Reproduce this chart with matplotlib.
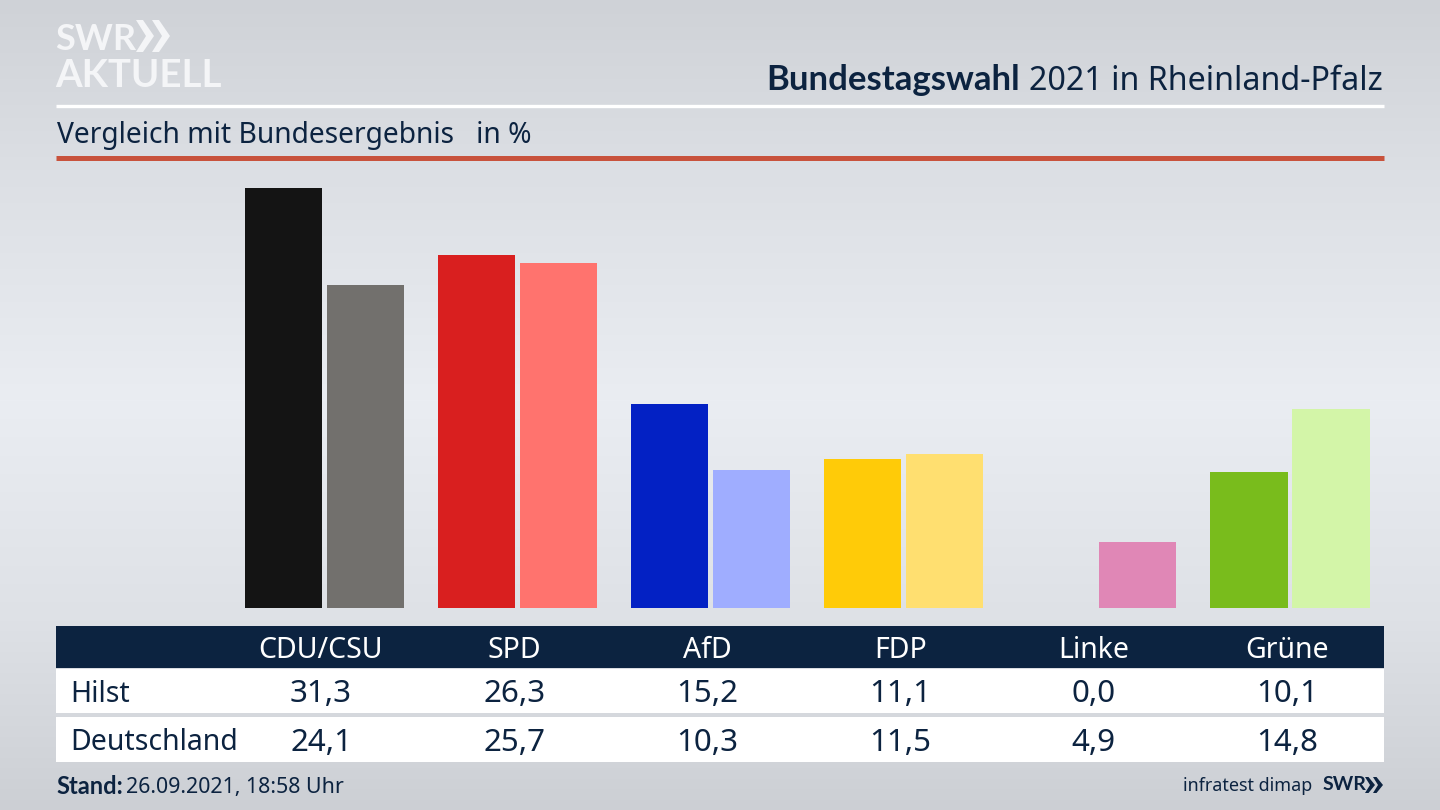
import numpy as np
import matplotlib
matplotlib.use('Agg')
import matplotlib.pyplot as plt
from matplotlib.patches import Rectangle, Polygon

plt.rcParams['font.family'] = ['Noto Sans', 'DejaVu Sans']

parteien = ['CDU/CSU', 'SPD', 'AfD', 'FDP', 'Linke', 'Grüne']
hilst = [31.3, 26.3, 15.2, 11.1, 0.0, 10.1]
deutschland = [24.1, 25.7, 10.3, 11.5, 4.9, 14.8]
farben_hilst = ['#141414', '#d91f1f', '#0321c4', '#ffcb08', '#e087b6', '#79bc1c']
farben_de = ['#72706d', '#ff736e', '#9fadff', '#ffdf70', '#e087b6', '#d3f5a8']

NAVY = '#0c2340'
FETT = ['Lato', 'Open Sans', 'DejaVu Sans']

fig = plt.figure(figsize=(14.4, 8.1), dpi=100)

# Hintergrund + Overlay in Pixelkoordinaten
bg = fig.add_axes([0, 0, 1, 1])
stops_y = [0, 170, 400, 620, 810]
stops_c = [207, 220, 234, 222, 204]
grau = np.interp(np.arange(810), stops_y, stops_c)
verlauf = np.stack([grau, grau + 3, grau + 8], axis=-1).clip(0, 255).astype(np.uint8)[:, None, :]
bg.imshow(verlauf, extent=[0, 1440, 810, 0], aspect='auto', zorder=0)
bg.set_xlim(0, 1440)
bg.set_ylim(810, 0)
bg.axis('off')

# Balken
ax = fig.add_axes([56 / 1440, (810 - 608) / 810, 1328 / 1440, 430 / 810])
ax.patch.set_alpha(0)
ax.set_xlim((56 - 324.5) / 193.1, (1384 - 324.5) / 193.1)
ax.set_ylim(0, 430 / 13.42)
ax.axis('off')
x = np.arange(len(parteien))
ax.bar(x - 0.2124, hilst, width=0.399, color=farben_hilst)
ax.bar(x + 0.2124, deutschland, width=0.399, color=farben_de)

# Kopf
bg.plot([56, 1384], [105.5, 105.5], color='white', lw=2.4, solid_capstyle='butt')
bg.plot([56, 1384], [157.5, 157.5], color='#c8523c', lw=3.6, solid_capstyle='butt')
bg.text(1383, 81, '2021 in Rheinland-Pfalz', ha='right', va='center', fontsize=23.2, color=NAVY)
bg.text(1020, 80, 'Bundestagswahl', ha='right', va='center', fontsize=25, color=NAVY, fontweight='bold', family=FETT)
bg.text(57, 135, 'Vergleich mit Bundesergebnis   in %', ha='left', va='center', fontsize=20.3, color=NAVY)

# Logo
bg.text(55, 39, 'SWR', ha='left', va='center', fontsize=26, color='#f4f5f7', fontweight='bold', family=FETT)
for x0 in (136, 152):
    bg.add_patch(Polygon([(x0, 20), (x0 + 7, 20), (x0 + 18, 36), (x0 + 7, 52), (x0, 52), (x0 + 10, 36)],
                         closed=True, color='#f4f5f7', lw=0))
bg.text(55, 76, 'AKTUELL', ha='left', va='center', fontsize=27.6, color='#f4f5f7', fontweight='bold', family=FETT)

# Tabelle
bg.add_patch(Rectangle((56, 626), 1328, 42, color=NAVY, lw=0))
bg.add_patch(Rectangle((56, 669), 1328, 44, color='white', lw=0))
bg.add_patch(Rectangle((56, 717), 1328, 45, color='white', lw=0))
bg.text(70, 694, 'Hilst', ha='left', va='center', fontsize=20.5, color=NAVY)
bg.text(70, 742, 'Deutschland', ha='left', va='center', fontsize=20.5, color=NAVY)
for i, name in enumerate(parteien):
    xm = 321 + 193.2 * i
    bg.text(xm, 650, name, ha='center', va='center', fontsize=20.5, color='white')
    bg.text(xm, 694, f'{hilst[i]:.1f}'.replace('.', ','), ha='center', va='center', fontsize=22.5, color=NAVY)
    bg.text(xm, 743, f'{deutschland[i]:.1f}'.replace('.', ','), ha='center', va='center', fontsize=22.5, color=NAVY)

# Fuss
bg.text(56, 786, 'Stand:', ha='left', va='center', fontsize=17, color=NAVY, fontweight='bold', family=FETT)
bg.text(126, 787, '26.09.2021, 18:58 Uhr', ha='left', va='center', fontsize=15.4, color=NAVY)
bg.text(1312, 786, 'infratest dimap', ha='right', va='center', fontsize=12.9, color=NAVY)
bg.text(1323, 785, 'SWR', ha='left', va='center', fontsize=14, color=NAVY, fontweight='bold', family=FETT)
for x0 in (1365, 1373):
    bg.add_patch(Polygon([(x0, 777), (x0 + 3.5, 777), (x0 + 10, 785), (x0 + 3.5, 793), (x0, 793), (x0 + 5, 785)],
                         closed=True, color=NAVY, lw=0))

fig.savefig('out.png', dpi=100)
